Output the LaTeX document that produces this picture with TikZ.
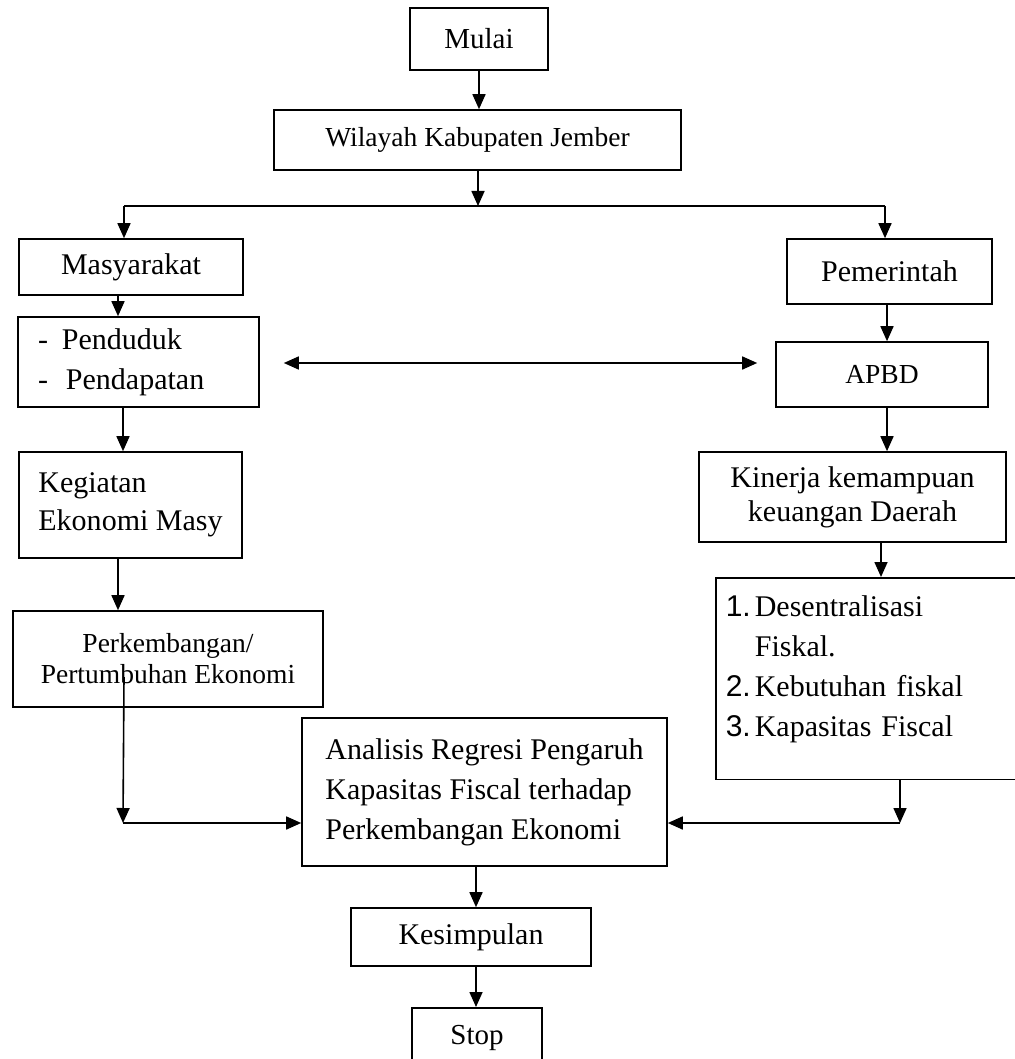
\documentclass[tikz,border=0pt]{standalone}
\usepackage{fontspec}
\setmainfont{Liberation Serif}
\newfontfamily\numfont{Liberation Sans}
\usetikzlibrary{arrows.meta}

\begin{document}
\begin{tikzpicture}[
  x=0.5pt, y=-0.5pt,
  box/.style={draw, line width=0.8pt, inner sep=0pt, align=center,
    font=\fontsize{15}{20}\selectfont},
  smalltext/.style={font=\fontsize{13.75}{15.5}\selectfont},
  arrow/.style={-{Triangle[length=7.5pt,width=6.5pt]}, line width=0.8pt},
  both/.style={{Triangle[length=7.5pt,width=6.5pt]}-{Triangle[length=7.5pt,width=6.5pt]}, line width=0.8pt}
]
\useasboundingbox (0,0) rectangle (1015,1059);
\clip (0,0) rectangle (1015,1059);

\node[box, minimum width=69pt, minimum height=31pt, font=\fontsize{14.5}{18}\selectfont] (mulai) at (479,39) {Mulai};
\node[box, smalltext, minimum width=203.5pt, minimum height=30pt] (wilayah) at (477.5,140) {Wilayah Kabupaten Jember};

\node[box, minimum width=112pt, minimum height=28pt] (masy) at (131,267) {Masyarakat};
\node[box, minimum width=102.5pt, minimum height=32.5pt] (pemer) at (889.5,271.5) {Pemerintah};

\node[box, minimum width=120.5pt, minimum height=45pt, align=left, text width=100.5pt] (pend) at (138.5,362)
  {-\hspace{7pt}Penduduk\\-\hspace{9pt}Pendapatan};
\node[box, smalltext, minimum width=106pt, minimum height=32.5pt] (apbd) at (882,374.5) {APBD};

\node[box, minimum width=111.5pt, minimum height=53pt, align=left, font=\fontsize{15}{19}\selectfont] (kegiatan) at (130.5,505)
  {Kegiatan\\Ekonomi Masy};
\node[box, minimum width=153.5pt, minimum height=45pt, font=\fontsize{15}{17}\selectfont] (kinerja) at (852.5,497)
  {Kinerja kemampuan\\keuangan Daerah};

\node[box, smalltext, minimum width=155pt, minimum height=48pt] (perkemb) at (168,659)
  {Perkembangan/\\Pertumbuhan Ekonomi};
\node[box, anchor=north west, align=left, inner xsep=5pt, inner ysep=9pt, text width=147.5pt, text depth=72.5pt,
  font=\fontsize{15}{20}\selectfont] (faktor) at (715,577)
  {{\numfont 1.}\hspace{2pt}Desentralisasi\\\phantom{\numfont 1.}\hspace{2pt}Fiskal.\\{\numfont 2.}\hspace{2pt}Kebutuhan fiskal\\{\numfont 3.}\hspace{2pt}Kapasitas Fiscal};

\node[box, minimum width=182.5pt, minimum height=74pt, align=left] (analisis) at (484.5,792)
  {Analisis Regresi Pengaruh\\Kapasitas Fiscal terhadap\\Perkembangan Ekonomi};
\node[box, minimum width=120pt, minimum height=29pt] (kesimp) at (471,937) {Kesimpulan};
\node[box, anchor=north, minimum width=65pt, inner ysep=8.5pt, font=\fontsize{14.5}{18}\selectfont] (stop) at (477,1007) {Stop};

% branch under Wilayah
\coordinate (split) at (478,206);
\coordinate (lft) at (124,206);
\coordinate (rgt) at (885,206);
\draw[arrow] (mulai.south) -- (mulai.south |- wilayah.north);
\draw[arrow] (wilayah.south -| split) -- (split);
\draw[line width=0.8pt] (lft) -- (rgt);
\draw[arrow] (lft) -- (lft |- masy.north);
\draw[arrow] (rgt) -- (rgt |- pemer.north);

% left column
\draw[arrow] ([xshift=-6.5pt]masy.south) -- ([xshift=-6.5pt]masy.south |- pend.north);
\draw[arrow] ([xshift=-7.75pt]pend.south) -- ([xshift=-7.75pt]pend.south |- kegiatan.north);
\draw[arrow] ([xshift=-6.25pt]kegiatan.south) -- ([xshift=-6.25pt]kegiatan.south |- perkemb.north);

% right column
\draw[arrow] ([xshift=-1.25pt]pemer.south) -- ([xshift=-1.25pt]pemer.south |- apbd.north);
\draw[arrow] ([xshift=2.5pt]apbd.south) -- ([xshift=2.5pt]apbd.south |- kinerja.north);
\draw[arrow] ([xshift=14.25pt]kinerja.south) -- ([xshift=14.25pt]kinerja.south |- faktor.north);

\draw[both, shorten <=12pt, shorten >=9pt] ([yshift=-0.5pt]pend.east) -- ([yshift=-0.5pt]pend.east -| apbd.west);

% into the analysis box
\coordinate (pk) at (124,677);
\coordinate (lmeet) at (123,823);
\coordinate (rmeet) at (900,823);
\draw[arrow] (pk) -- (lmeet);
\draw[arrow] (lmeet) -- (lmeet -| analisis.west);
\draw[arrow] (faktor.south -| rmeet) -- (rmeet);
\draw[arrow] (rmeet) -- (rmeet -| analisis.east);

\draw[arrow] ([xshift=-4.25pt]analisis.south) -- ([xshift=-4.25pt]analisis.south |- kesimp.north);
\draw[arrow] ([xshift=2.5pt]kesimp.south) -- ([xshift=2.5pt]kesimp.south |- stop.north);

\end{tikzpicture}
\end{document}
